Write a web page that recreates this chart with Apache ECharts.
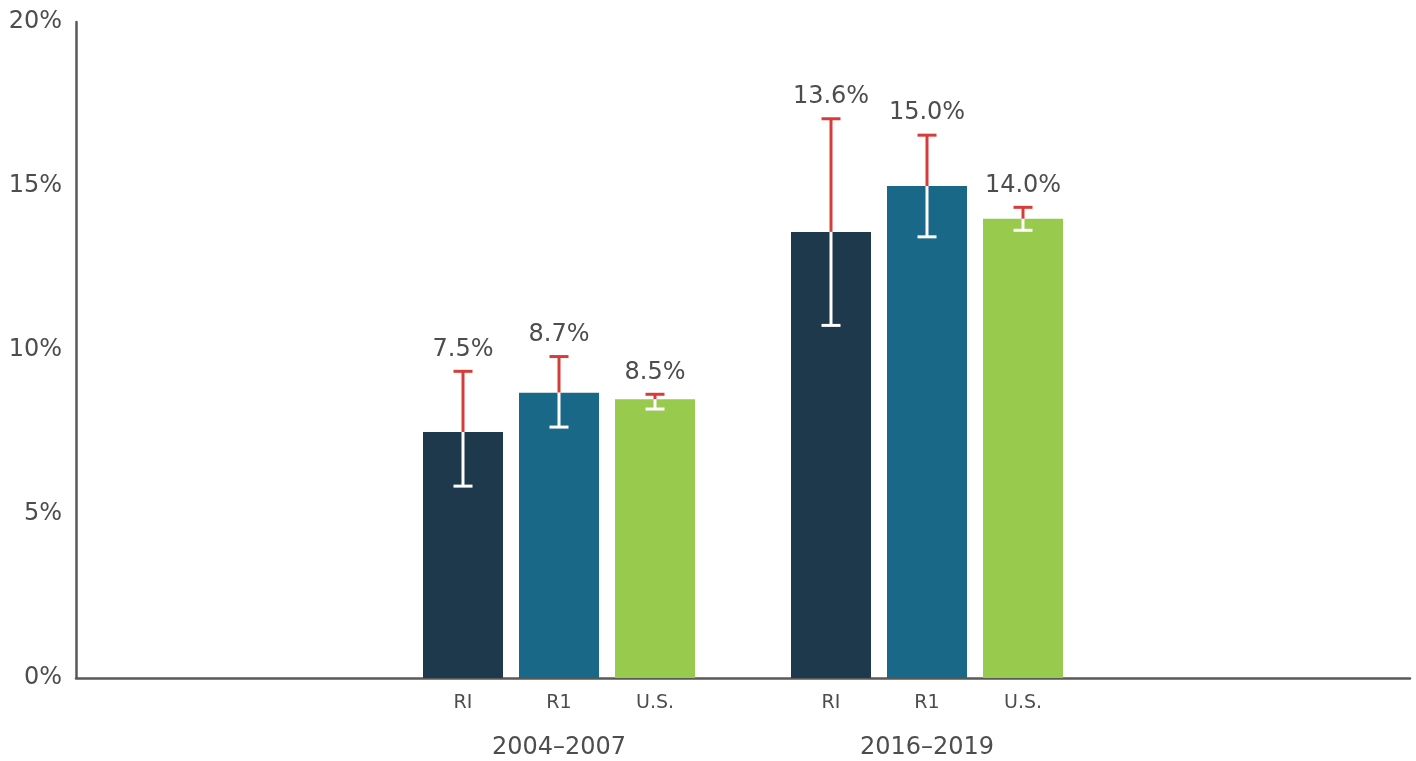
<!DOCTYPE html>
<html>
<head>
<meta charset="utf-8">
<script src="https://cdn.jsdelivr.net/npm/echarts@6/dist/echarts.min.js"></script>
<style>html,body{margin:0;padding:0;background:#fff;}#chart{width:1416px;height:761px;}</style>
</head>
<body>
<div id="chart"></div>
<script>
// ---- data ----
const groups = ['2004–2007', '2016–2019'];
const seriesNames = ['RI', 'R1', 'U.S.'];
const riValues = [7.5, 13.6];
const r1Values = [8.7, 15.0];
const usValues = [8.5, 14.0];
const riLow = [5.85, 10.75];
const riHigh = [9.35, 17.05];
const r1Low = [7.65, 13.45];
const r1High = [9.8, 16.55];
const usLow = [8.2, 13.65];
const usHigh = [8.65, 14.35];
const yTicks = [0, 5, 10, 15, 20];

// ---- styles ----
const colors = ['#1e394c', '#1a6888', '#98ca4d'];
const errUpColor = '#d63c39';
const errDownColor = '#ffffff';
const textColor = '#4d4d4d';
const axisColor = '#595959';
const fontFamily = '"DejaVu Sans", Verdana, sans-serif';
const barWidth = 80;
const barGapRatio = 0.2;
const capWidth = 19;

const valueSets = [riValues, r1Values, usValues];
const lowSets = [riLow, r1Low, usLow];
const highSets = [riHigh, r1High, usHigh];

const chart = echarts.init(document.getElementById('chart'));

const barSeries = seriesNames.map((name, i) => ({
  name: name,
  type: 'bar',
  xAxisIndex: 1,
  yAxisIndex: 1,
  barWidth: barWidth,
  barGap: (barGapRatio * 100) + '%',
  itemStyle: { color: colors[i] },
  data: valueSets[i],
  z: 2
}));

const errSeries = seriesNames.map((name, i) => ({
  name: name + ' error',
  type: 'custom',
  xAxisIndex: 1,
  yAxisIndex: 1,
  clip: false,
  z: 5,
  data: groups.map((g, k) => [k, lowSets[i][k], highSets[i][k], valueSets[i][k]]),
  encode: { x: 0, y: [1, 2] },
  renderItem: function (params, api) {
    const offset = (i - (seriesNames.length - 1) / 2) * barWidth * (1 + barGapRatio);
    const top = api.coord([api.value(0), api.value(3)]);
    const lo = api.coord([api.value(0), api.value(1)]);
    const hi = api.coord([api.value(0), api.value(2)]);
    const base = api.coord([api.value(0), 0]);
    const x = top[0] + offset;
    const hw = capWidth / 2;
    return {
      type: 'group',
      children: [
        { type: 'line', shape: { x1: x, y1: hi[1], x2: x, y2: top[1] }, style: { stroke: errUpColor, lineWidth: 3 } },
        { type: 'line', shape: { x1: x - hw, y1: hi[1], x2: x + hw, y2: hi[1] }, style: { stroke: errUpColor, lineWidth: 3 } },
        { type: 'line', shape: { x1: x, y1: top[1], x2: x, y2: lo[1] }, style: { stroke: errDownColor, lineWidth: 3 } },
        { type: 'line', shape: { x1: x - hw, y1: lo[1], x2: x + hw, y2: lo[1] }, style: { stroke: errDownColor, lineWidth: 3 } },
        { type: 'text', style: { text: api.value(3).toFixed(1) + '%', x: x, y: hi[1] - 22, align: 'center', verticalAlign: 'middle', fontSize: 24, fontFamily: fontFamily, fill: textColor } },
        { type: 'text', style: { text: name, x: x, y: base[1] + 25, align: 'center', verticalAlign: 'middle', fontSize: 19, fontFamily: fontFamily, fill: textColor } }
      ]
    };
  }
}));

const option = {
  animation: false,
  backgroundColor: '#ffffff',
  grid: [
    { left: 76, right: 6, top: 22, bottom: 83 },
    { left: 375, width: 736, top: 22, bottom: 83 }
  ],
  xAxis: [
    {
      type: 'value', gridIndex: 0, min: 0, max: 1,
      axisLine: { show: true, lineStyle: { color: axisColor, width: 2.5 } },
      axisTick: { show: false }, axisLabel: { show: false }, splitLine: { show: false }
    },
    {
      type: 'category', gridIndex: 1, data: groups,
      axisLine: { show: false }, axisTick: { show: false }, splitLine: { show: false },
      axisLabel: { margin: 58, fontSize: 24, fontFamily: fontFamily, color: textColor }
    }
  ],
  yAxis: [
    {
      type: 'value', gridIndex: 0, min: yTicks[0], max: yTicks[yTicks.length - 1], interval: yTicks[1] - yTicks[0],
      axisLine: { show: true, lineStyle: { color: axisColor, width: 2.5 } },
      axisTick: { show: false }, splitLine: { show: false },
      axisLabel: { formatter: '{value}%', margin: 14, fontSize: 24, fontFamily: fontFamily, color: textColor }
    },
    {
      type: 'value', gridIndex: 1, min: yTicks[0], max: yTicks[yTicks.length - 1], show: false
    }
  ],
  series: barSeries.concat(errSeries)
};

chart.setOption(option);
</script>
</body>
</html>
